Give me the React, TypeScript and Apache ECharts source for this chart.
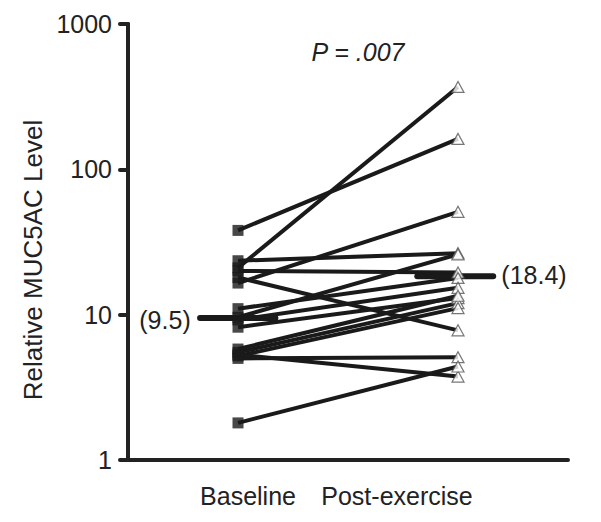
import React, { useEffect, useRef } from "react";
import * as echarts from "echarts";

const groups = ["Baseline", "Post-exercise"];
const yTicks = [1, 10, 100, 1000];
const baseline = [38, 21, 23.5, 20, 16.5, 18, 9.6, 11, 9.2, 8.2, 5.5, 5.2, 5.8, 5.0, 5.3, 1.8];
const post = [162, 369, 26.5, 19.5, 51, 7.8, 26, 17.9, 15.3, 13.0, 12.0, 11.1, 13.5, 5.1, 3.75, 4.4];
const baselineMedian = 9.5;
const postMedian = 18.4;
const pValue = "P = .007";

const FONT = "'Liberation Sans', Arial, Helvetica, sans-serif";
const INK = "#222";

export default function App() {
  const ref = useRef<HTMLDivElement>(null);
  useEffect(() => {
    document.body.style.margin = "0";
    const chart = echarts.init(ref.current!, undefined, { renderer: "svg" });
    const pairSeries = baseline.map((b, i) => ({
      type: "line",
      data: [
        [1, b],
        [3, post[i]],
      ],
      showSymbol: false,
      symbol: "none",
      lineStyle: { color: "#1a1a1a", width: 4 },
      z: 2,
      silent: true,
    }));
    chart.setOption({
      animation: false,
      grid: { left: 128, right: 33, top: 24, bottom: 62 },
      xAxis: {
        type: "value",
        min: 0,
        max: 4,
        axisLine: { show: true, lineStyle: { color: INK, width: 4, cap: "round" } },
        axisTick: { show: false },
        axisLabel: { show: false },
        splitLine: { show: false },
      },
      yAxis: {
        type: "log",
        logBase: 10,
        min: 1,
        max: 1000,
        axisLine: { show: true, lineStyle: { color: INK, width: 4, cap: "round" } },
        axisTick: { show: true, length: 8, lineStyle: { color: INK, width: 4, cap: "round" } },
        axisLabel: {
          color: INK,
          fontSize: 25,
          fontFamily: FONT,
          margin: 16,
          formatter: (v: number) => (yTicks.includes(v) ? String(v) : ""),
        },
        splitLine: { show: false },
      },
      series: [
        ...pairSeries,
        {
          type: "line",
          data: [
            [0.655, baselineMedian],
            [1.34, baselineMedian],
          ],
          symbol: "none",
          lineStyle: { color: "#1a1a1a", width: 6, cap: "round" },
          z: 3,
        },
        {
          type: "line",
          data: [
            [2.63, postMedian],
            [3.32, postMedian],
          ],
          symbol: "none",
          lineStyle: { color: "#1a1a1a", width: 6, cap: "round" },
          z: 3,
        },
        {
          type: "scatter",
          data: baseline.map((b) => [1, b]),
          symbol: "rect",
          symbolSize: 11,
          itemStyle: { color: "#1a1a1a" },
          z: 4,
        },
        {
          type: "scatter",
          data: post.map((p) => [3, p]),
          symbol: "triangle",
          symbolSize: [12, 11],
          itemStyle: { color: "#fff", borderColor: "#555", borderWidth: 1.2 },
          z: 5,
        },
      ],
      graphic: [
        {
          type: "text",
          x: 33,
          y: 260,
          rotation: Math.PI / 2,
          style: {
            text: "Relative MUC5AC Level",
            fill: INK,
            font: `26px ${FONT}`,
            align: "center",
            verticalAlign: "middle",
          },
        },
        {
          type: "text",
          x: 248,
          y: 496,
          style: { text: groups[0], fill: INK, font: `25px ${FONT}`, align: "center", verticalAlign: "middle" },
        },
        {
          type: "text",
          x: 397,
          y: 496,
          style: { text: groups[1], fill: INK, font: `25px ${FONT}`, align: "center", verticalAlign: "middle" },
        },
        {
          type: "text",
          x: 358,
          y: 52,
          style: { text: pValue, fill: INK, font: `italic 25px ${FONT}`, align: "center", verticalAlign: "middle" },
        },
        {
          type: "text",
          x: 165,
          y: 320,
          style: { text: `(${baselineMedian})`, fill: INK, font: `25px ${FONT}`, align: "center", verticalAlign: "middle" },
        },
        {
          type: "text",
          x: 534,
          y: 275,
          style: { text: `(${postMedian})`, fill: INK, font: `25px ${FONT}`, align: "center", verticalAlign: "middle" },
        },
      ],
    });
    return () => chart.dispose();
  }, []);
  return <div ref={ref} style={{ width: 601, height: 522 }} />;
}
